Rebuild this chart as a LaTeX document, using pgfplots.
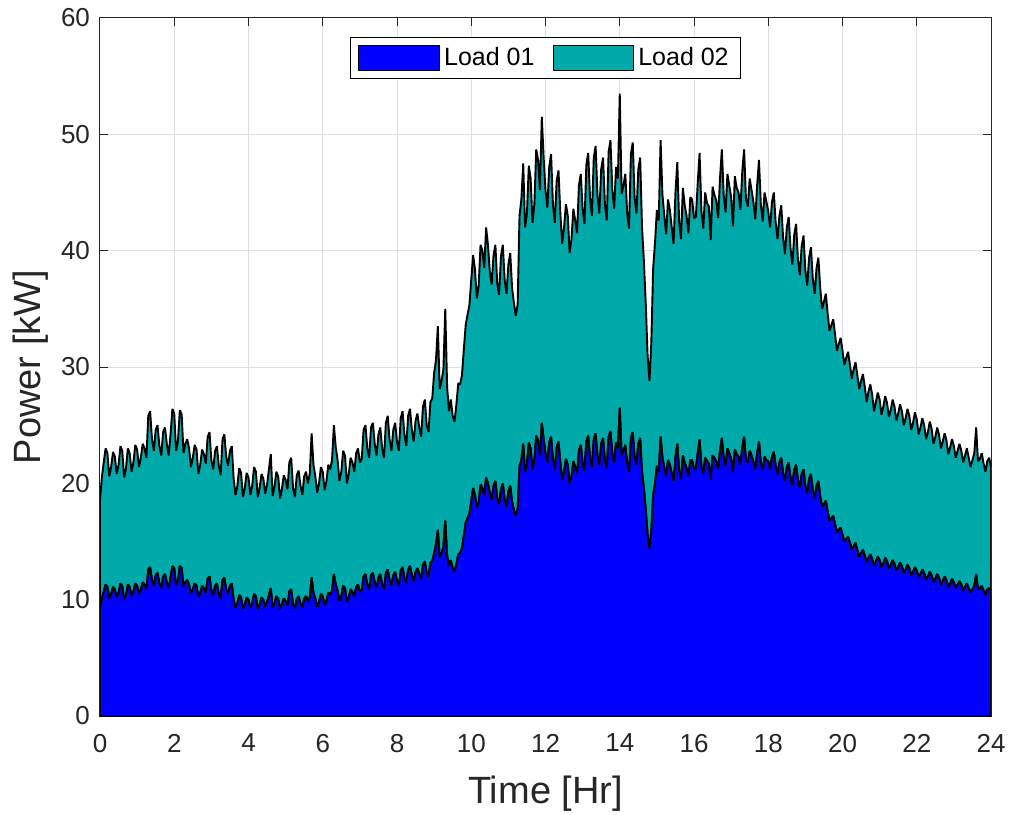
\documentclass[border=0pt]{standalone}
\usepackage{pgfplots}
\usepackage{pgfplotstable}
\usepackage{fontspec}
\setmainfont{Liberation Sans}
\pgfplotsset{compat=1.18}
\definecolor{loadA}{RGB}{0,0,255}
\definecolor{loadB}{RGB}{0,170,170}
\definecolor{axgray}{RGB}{38,38,38}
\definecolor{gridgray}{RGB}{223,223,223}
\pgfplotsset{layers/mine/.define layer set={axis background,axis grid,main,axis ticks,axis lines,axis tick labels,axis descriptions,axis foreground}{}}

\pgfplotstableread{
t a b
0.00 9.2 9.3
0.05 10.1 10.4
0.10 10.7 11.1
0.15 11.3 11.7
0.20 11.1 11.5
0.25 10.1 10.5
0.30 10.5 10.9
0.35 11.1 11.6
0.40 10.9 11.4
0.45 10.2 10.6
0.50 10.6 11.0
0.55 11.4 11.8
0.60 11.2 11.6
0.65 10.0 10.5
0.70 10.4 10.9
0.75 11.3 11.7
0.80 11.1 11.5
0.85 10.3 10.7
0.90 10.7 11.1
0.95 11.4 11.9
1.00 11.2 11.7
1.05 10.5 10.9
1.10 10.9 11.3
1.15 11.5 11.9
1.20 11.3 11.7
1.25 10.9 11.3
1.30 12.6 13.2
1.35 12.8 13.4
1.40 11.7 12.1
1.45 11.2 11.6
1.50 12.1 12.5
1.55 12.3 12.7
1.60 11.4 11.8
1.65 11.0 11.4
1.70 12.0 12.4
1.75 12.2 12.6
1.80 11.5 11.9
1.85 11.0 11.4
1.90 11.9 12.3
1.95 12.9 13.5
2.00 12.7 13.3
2.05 11.2 11.6
2.10 11.6 12.0
2.15 12.9 13.4
2.20 12.7 13.2
2.25 11.1 11.5
2.30 11.5 11.9
2.35 11.7 12.1
2.40 11.3 11.7
2.45 10.5 10.9
2.50 10.9 11.3
2.55 11.4 11.9
2.60 11.2 11.7
2.65 10.2 10.6
2.70 10.6 11.0
2.75 11.2 11.7
2.80 11.0 11.5
2.85 10.6 11.1
2.90 11.8 12.2
2.95 12.0 12.4
3.00 10.8 11.2
3.05 10.4 10.8
3.10 11.2 11.6
3.15 11.4 11.8
3.20 10.5 11.0
3.25 10.1 10.6
3.30 11.7 12.1
3.35 11.9 12.3
3.40 10.9 11.4
3.45 10.5 11.0
3.50 11.2 11.6
3.55 11.4 11.8
3.60 10.0 10.4
3.65 9.3 9.7
3.70 9.7 10.1
3.75 10.4 10.9
3.80 10.2 10.7
3.85 9.2 9.6
3.90 9.6 10.0
3.95 10.2 10.7
4.00 10.0 10.5
4.05 9.3 9.7
4.10 9.7 10.1
4.15 10.5 10.9
4.20 10.3 10.7
4.25 9.2 9.6
4.30 9.6 10.0
4.35 10.2 10.6
4.40 10.0 10.4
4.45 9.4 9.7
4.50 9.8 10.1
4.55 10.4 10.8
4.60 11.0 11.5
4.65 9.3 9.6
4.70 9.7 10.0
4.75 10.3 10.7
4.80 10.1 10.5
4.85 9.2 9.5
4.90 9.6 9.9
4.95 10.1 10.6
5.00 9.9 10.4
5.05 9.5 10.0
5.10 10.7 11.1
5.15 10.9 11.3
5.20 9.6 10.0
5.25 9.2 9.6
5.30 10.1 10.6
5.35 10.3 10.8
5.40 9.7 10.1
5.45 9.3 9.7
5.50 10.1 10.5
5.55 10.3 10.7
5.60 9.8 10.2
5.65 10.2 10.6
5.70 11.9 12.4
5.75 10.6 11.0
5.80 10.1 10.5
5.85 9.4 9.8
5.90 9.8 10.2
5.95 10.5 10.9
6.00 10.3 10.7
6.05 9.5 9.9
6.10 9.9 10.3
6.15 10.6 11.0
6.20 10.4 10.8
6.25 10.8 11.2
6.30 12.2 12.8
6.35 11.3 11.8
6.40 10.8 11.2
6.45 9.9 10.3
6.50 10.3 10.7
6.55 11.2 11.6
6.60 11.0 11.4
6.65 9.8 10.2
6.70 10.2 10.6
6.75 10.9 11.3
6.80 10.7 11.1
6.85 10.3 10.7
6.90 11.1 11.5
6.95 11.3 11.7
7.00 10.7 11.1
7.05 10.8 11.3
7.10 12.0 12.6
7.15 12.2 12.8
7.20 11.3 11.7
7.25 10.9 11.3
7.30 12.1 12.7
7.35 12.3 12.9
7.40 11.5 11.9
7.45 11.0 11.4
7.50 11.9 12.3
7.55 12.2 12.6
7.60 11.3 11.7
7.65 10.9 11.3
7.70 12.3 12.9
7.75 12.6 13.2
7.80 11.7 12.1
7.85 11.2 11.6
7.90 12.1 12.5
7.95 12.4 12.8
8.00 11.6 12.0
8.05 11.2 11.6
8.10 12.5 13.1
8.15 12.8 13.4
8.20 11.9 12.3
8.25 11.4 11.8
8.30 12.6 13.2
8.35 12.9 13.5
8.40 12.1 12.5
8.45 11.6 12.0
8.50 12.4 13.0
8.55 12.7 13.3
8.60 12.2 12.6
8.65 11.8 12.2
8.70 13.0 13.6
8.75 13.3 13.9
8.80 12.3 12.7
8.85 12.0 12.4
8.90 13.2 13.8
8.95 13.3 14.0
9.00 14.0 15.5
9.05 14.8 15.8
9.10 16.0 17.5
9.15 13.6 14.5
9.20 14.0 14.8
9.25 14.6 15.2
9.30 16.8 18.2
9.35 13.8 14.5
9.40 12.9 13.3
9.45 13.4 13.8
9.50 12.7 13.1
9.55 12.4 12.9
9.60 13.1 13.7
9.65 13.9 14.7
9.70 14.0 14.5
9.75 14.4 14.9
9.80 15.5 16.0
9.85 16.6 17.0
9.90 17.0 17.5
9.95 17.4 17.9
10.00 18.5 19.0
10.05 19.6 20.0
10.10 19.0 19.4
10.15 17.9 18.0
10.20 18.4 18.6
10.25 19.9 20.6
10.30 19.6 20.4
10.35 19.0 19.5
10.40 20.5 21.5
10.45 20.0 20.5
10.50 19.2 19.0
10.55 18.6 18.5
10.60 19.8 19.8
10.65 20.2 20.3
10.70 18.7 18.5
10.75 18.2 18.0
10.80 19.5 20.0
10.85 20.0 20.5
10.90 18.6 18.9
10.95 18.0 18.3
11.00 19.3 19.5
11.05 19.8 20.0
11.10 18.4 18.4
11.15 17.7 17.8
11.20 17.2 17.2
11.25 17.8 17.6
11.30 21.5 21.5
11.35 22.0 22.4
11.40 23.4 24.1
11.45 21.0 21.0
11.50 21.6 21.6
11.55 23.5 23.8
11.60 23.0 23.2
11.65 21.2 21.2
11.70 22.0 22.0
11.75 24.1 24.6
11.80 23.7 24.1
11.85 22.4 22.8
11.90 25.2 26.3
11.95 23.8 24.2
12.00 22.6 22.6
12.05 21.8 21.9
12.10 23.5 23.7
12.15 24.0 24.3
12.20 22.1 21.9
12.25 21.2 21.2
12.30 23.1 22.9
12.35 23.6 23.3
12.40 21.8 21.4
12.45 20.3 20.3
12.50 21.0 21.0
12.55 22.1 21.9
12.60 21.6 21.4
12.65 20.0 19.8
12.70 20.6 20.4
12.75 21.9 21.7
12.80 21.4 21.2
12.85 20.8 20.7
12.90 22.8 22.8
12.95 23.3 23.3
13.00 21.8 21.8
13.05 21.1 21.2
13.10 23.6 23.8
13.15 24.1 24.3
13.20 22.2 22.3
13.25 21.4 21.6
13.30 23.8 24.2
13.35 24.3 24.7
13.40 22.4 22.4
13.45 21.6 21.6
13.50 23.4 23.6
13.55 23.9 24.1
13.60 22.0 22.0
13.65 21.3 21.3
13.70 24.0 24.5
13.75 24.5 25.0
13.80 22.6 22.6
13.85 21.8 21.8
13.90 23.5 23.7
13.95 23.0 23.2
14.00 26.5 27.0
14.05 22.4 22.5
14.10 22.8 22.8
14.15 23.3 23.3
14.20 21.7 21.5
14.25 21.0 20.9
14.30 23.9 24.4
14.35 24.4 24.9
14.40 22.3 22.3
14.45 21.6 21.6
14.50 23.4 23.6
14.55 23.9 24.1
14.60 21.0 21.0
14.65 19.6 19.5
14.70 17.8 17.7
14.75 15.6 15.4
14.80 14.4 14.4
14.85 15.9 16.2
14.90 19.0 19.5
14.95 20.0 20.7
15.00 21.5 22.0
15.05 21.0 21.6
15.10 24.0 25.5
15.15 22.2 22.6
15.20 21.4 21.6
15.25 20.6 20.8
15.30 22.0 22.4
15.35 21.6 21.9
15.40 20.9 21.1
15.45 20.2 20.4
15.50 22.2 22.8
15.55 23.4 24.2
15.60 21.1 21.4
15.65 20.4 20.6
15.70 22.4 23.0
15.75 21.8 22.1
15.80 21.3 21.7
15.85 20.6 20.9
15.90 22.0 22.6
15.95 22.0 22.4
16.00 21.2 21.6
16.05 21.3 21.6
16.10 22.6 23.2
16.15 23.8 24.6
16.20 21.5 21.9
16.25 20.8 21.1
16.30 22.2 22.8
16.35 21.9 22.2
16.40 21.7 22.1
16.45 20.3 20.6
16.50 22.4 23.1
16.55 22.2 22.6
16.60 21.9 22.4
16.65 21.2 21.6
16.70 22.8 23.4
16.75 23.9 24.8
16.80 22.2 22.6
16.85 21.5 21.8
16.90 23.0 23.6
16.95 22.6 23.0
17.00 22.1 22.5
17.05 21.0 21.1
17.10 22.9 23.5
17.15 22.5 22.9
17.20 22.3 22.7
17.25 21.6 21.9
17.30 23.1 23.7
17.35 24.0 24.7
17.40 22.0 22.4
17.45 21.8 22.0
17.50 22.8 23.4
17.55 22.4 22.8
17.60 21.9 22.3
17.65 21.2 21.5
17.70 22.6 23.0
17.75 23.6 24.2
17.80 21.8 22.2
17.85 21.1 21.4
17.90 22.3 22.7
17.95 22.0 22.2
18.00 21.9 21.5
18.05 21.2 20.8
18.10 22.3 21.9
18.15 22.7 22.3
18.20 21.5 20.9
18.25 20.8 20.2
18.30 21.8 21.2
18.35 22.2 21.7
18.40 20.9 20.2
18.45 20.2 19.5
18.50 21.4 20.6
18.55 21.8 21.1
18.60 20.5 19.7
18.65 19.8 19.0
18.70 21.2 20.2
18.75 21.6 20.7
18.80 20.3 18.9
18.85 19.6 18.3
18.90 20.8 19.6
18.95 21.2 20.1
19.00 19.8 18.5
19.05 19.1 17.9
19.10 20.4 19.0
19.15 20.8 19.5
19.20 19.4 18.2
19.25 18.7 17.6
19.30 19.8 18.7
19.35 20.2 19.2
19.40 18.9 17.9
19.45 18.0 17.0
19.50 18.2 17.4
19.55 18.5 17.8
19.60 17.6 17.0
19.65 16.8 16.3
19.70 17.0 16.6
19.75 17.2 16.9
19.80 16.5 16.3
19.85 15.8 15.6
19.90 16.0 16.0
19.95 16.2 16.3
20.00 15.6 15.8
20.05 15.0 15.2
20.10 15.2 15.6
20.15 15.4 15.9
20.20 14.9 15.3
20.25 14.3 14.7
20.30 14.6 15.2
20.35 14.9 15.5
20.40 14.3 15.0
20.45 13.7 14.4
20.50 14.0 14.8
20.55 14.3 15.1
20.60 13.8 14.5
20.65 13.2 13.8
20.70 13.6 14.3
20.75 13.9 14.6
20.80 13.5 14.1
20.85 12.9 13.3
20.90 13.3 13.7
20.95 13.7 14.1
21.00 13.4 13.8
21.05 12.8 13.1
21.10 13.1 13.5
21.15 13.6 13.9
21.20 13.3 13.6
21.25 12.7 13.0
21.30 13.0 13.3
21.35 13.4 13.8
21.40 13.1 13.5
21.45 12.5 12.9
21.50 12.8 13.2
21.55 13.2 13.6
21.60 12.9 13.3
21.65 12.3 12.7
21.70 12.6 13.0
21.75 13.0 13.4
21.80 12.7 13.1
21.85 12.1 12.5
21.90 12.4 12.8
21.95 12.8 13.3
22.00 12.5 13.0
22.05 11.9 12.3
22.10 12.2 12.6
22.15 12.6 13.0
22.20 12.3 12.7
22.25 11.7 12.1
22.30 12.0 12.4
22.35 12.4 12.9
22.40 12.1 12.6
22.45 11.5 11.9
22.50 11.8 12.2
22.55 12.2 12.6
22.60 11.9 12.3
22.65 11.3 11.7
22.70 11.6 12.0
22.75 12.0 12.3
22.80 11.7 12.0
22.85 11.1 11.4
22.90 11.4 11.7
22.95 11.8 12.0
23.00 11.5 11.7
23.05 11.0 11.2
23.10 11.3 11.5
23.15 11.6 11.8
23.20 11.3 11.5
23.25 10.8 11.0
23.30 11.1 11.3
23.35 11.4 11.6
23.40 11.0 11.2
23.45 10.6 10.8
23.50 10.9 11.1
23.55 11.2 11.4
23.60 12.2 12.6
23.65 10.9 11.0
23.70 11.0 11.1
23.75 11.2 11.4
23.80 10.8 10.9
23.85 10.4 10.6
23.90 10.9 11.0
23.95 11.0 11.2
24.00 10.6 10.8
}\loaddata

\begin{document}
\begin{tikzpicture}
\begin{axis}[
  set layers=mine,
  scale only axis,
  width=445.5pt, height=349pt,
  xmin=0, xmax=24, ymin=0, ymax=60,
  xtick={0,2,...,24}, ytick={0,10,...,60},
  stack plots=y,
  grid=major,
  major grid style={gridgray, line width=0.5pt},
  axis line style={axgray, line width=0.5pt},
  major tick style={axgray, line width=0.5pt},
  major tick length=4pt,
  tick align=inside,
  /pgf/number format/assume math mode=true,
  tick label style={font=\fontsize{13}{15}\selectfont, text=axgray},
  xticklabel style={yshift=-5.5pt},
  yticklabel style={xshift=-1.5pt},
  xlabel={Time [Hr]},
  ylabel={Power [kW]},
  label style={font=\fontsize{19}{22}\selectfont, text=axgray},
  xlabel style={at={(axis description cs:0.5,-0.085)}, anchor=north, inner sep=0pt},
  ylabel style={at={(axis description cs:-0.058,0.5)}, anchor=south, inner sep=0pt},
  legend columns=2,
  legend style={at={(0.5,0.973)}, anchor=north, draw=black, line width=0.5pt,
    font=\fontsize{12.5}{14}\selectfont, inner xsep=4pt, inner ysep=3pt,
    /tikz/every even column/.append style={column sep=7pt}},
  legend image code/.code={\draw[#1, line width=0.5pt] (0cm,-0.22cm) rectangle (1.42cm,0.22cm);},
]
\addplot[fill=loadA, draw=black, line width=0.95pt, line join=bevel] table[x=t, y=a]{\loaddata} \closedcycle;
\addlegendentry{Load 01}
\addplot[fill=loadB, draw=black, line width=0.95pt, line join=bevel] table[x=t, y=b]{\loaddata} \closedcycle;
\addlegendentry{Load 02}
\end{axis}
\pgfresetboundingbox
\useasboundingbox (-50pt,-49pt) rectangle (455.5pt,358pt);
\end{tikzpicture}
\end{document}
